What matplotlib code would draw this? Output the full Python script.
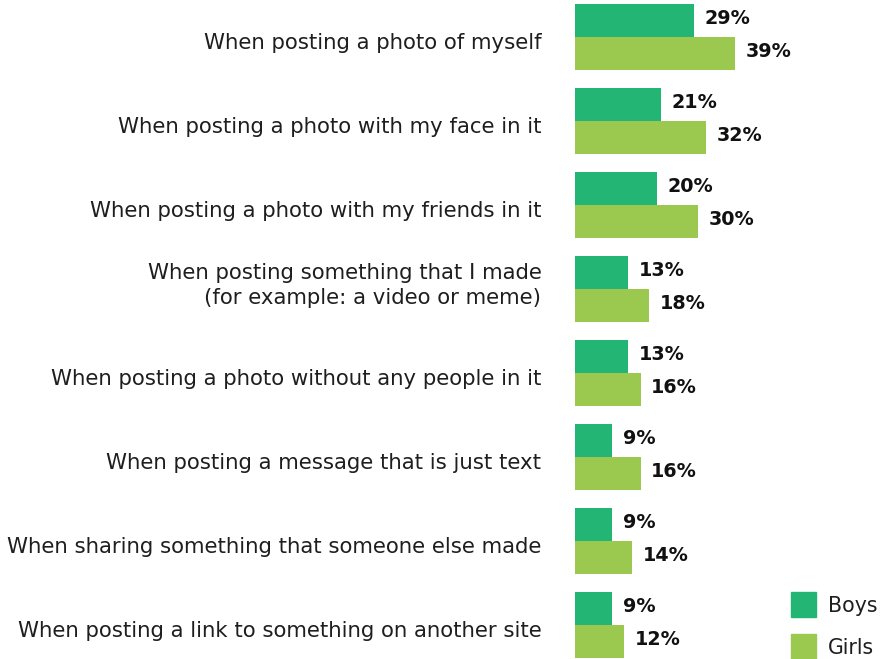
import matplotlib.pyplot as plt
from matplotlib.patches import Rectangle

# survey results, percent
categories = [
    "When posting a photo of myself",
    "When posting a photo with my face in it",
    "When posting a photo with my friends in it",
    "When posting something that I made\n(for example: a video or meme)",
    "When posting a photo without any people in it",
    "When posting a message that is just text",
    "When sharing something that someone else made",
    "When posting a link to something on another site",
]
boys = [29, 21, 20, 13, 13, 9, 9, 9]
girls = [39, 32, 30, 18, 16, 16, 14, 12]

BOYS_C = "#22b573"
GIRLS_C = "#9bc84f"

plt.rcParams['font.family'] = ['DejaVu Sans']

W, H = 881, 659
fig = plt.figure(figsize=(W / 100, H / 100), dpi=100)

# axes spans the full height; bars start at x=575px, ~4.1px per percent
left_px, right_px = 575, 775
ax = fig.add_axes([left_px / W, 0, (right_px - left_px) / W, 1])
ax.set_xlim(0, (right_px - left_px) / 4.1)
ax.set_ylim((H - 37) / 84, -37 / 84)
ax.axis('off')

bh = 33 / 84
for i in range(len(categories)):
    ax.barh(i - bh / 2, boys[i], height=bh, color=BOYS_C)
    ax.barh(i + bh / 2, girls[i], height=bh, color=GIRLS_C)
    ax.text(boys[i] + 2.6, i - bh / 2 - 0.02, f"{boys[i]}%", va='center', ha='left',
            fontsize=13.8, fontweight='bold', color='#111111')
    ax.text(girls[i] + 2.6, i + bh / 2 - 0.02, f"{girls[i]}%", va='center', ha='left',
            fontsize=13.8, fontweight='bold', color='#111111')
    # two-line labels sit a little higher
    dy = -0.04 if "\n" in categories[i] else 0.07
    ax.text(-8.2, i + dy, categories[i], va='center', ha='right', fontsize=15.3,
            color='#1e1e1e', linespacing=1.3, clip_on=False)

# legend
for k, (name, c) in enumerate([("Boys", BOYS_C), ("Girls", GIRLS_C)]):
    y0 = 592 + 42 * k
    fig.patches.append(Rectangle((791 / W, 1 - (y0 + 25) / H), 25 / W, 25 / H,
                                 transform=fig.transFigure, color=c))
    fig.text(828 / W, 1 - (y0 + 14) / H, name, va='center', ha='left',
             fontsize=14.8, color='#1e1e1e')

fig.savefig("out.png", dpi=100)
